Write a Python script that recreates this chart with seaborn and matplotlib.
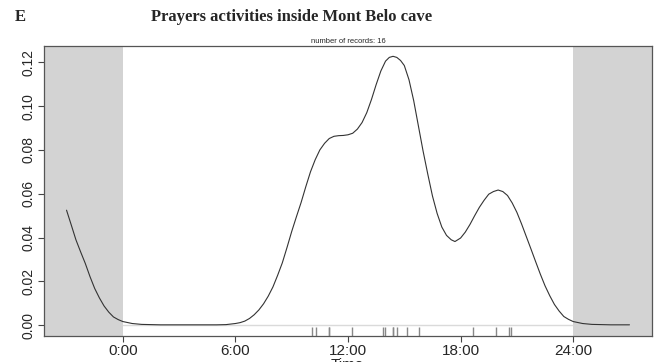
import matplotlib
matplotlib.use("Agg")
import matplotlib.pyplot as plt
import seaborn as sns
import pandas as pd

# density curve (hours, density)
hours = [-3.0, -2.75, -2.5, -2.25, -2.0, -1.75, -1.5, -1.25, -1.0, -0.75, -0.5, -0.25,
         0.0, 0.5, 1.0, 2.0, 3.0, 4.0, 5.0, 5.5, 6.0, 6.25, 6.5, 6.75, 7.0, 7.25, 7.5,
         7.75, 8.0, 8.25, 8.5, 8.75, 9.0, 9.25, 9.5, 9.75, 10.0, 10.25, 10.5, 10.75,
         11.0, 11.25, 11.5, 11.75, 12.0, 12.25, 12.5, 12.75, 13.0, 13.25, 13.5, 13.75,
         14.0, 14.2, 14.4, 14.6, 14.8, 15.0, 15.25, 15.5, 15.75, 16.0, 16.25, 16.5,
         16.75, 17.0, 17.25, 17.5, 17.7, 18.0, 18.25, 18.5, 18.75, 19.0, 19.25, 19.5,
         19.75, 20.0, 20.25, 20.5, 20.75, 21.0, 21.25, 21.5, 21.75, 22.0, 22.25, 22.5,
         22.75, 23.0, 23.25, 23.5, 23.75, 24.0, 24.5, 25.0, 26.0, 27.0]
density = [0.0525, 0.0458, 0.0390, 0.0335, 0.0282, 0.0222, 0.0168, 0.0125, 0.0088, 0.0060,
           0.0038, 0.0026, 0.0017, 0.0008, 0.0004, 0.0002, 0.0002, 0.0002, 0.0002, 0.0003,
           0.0008, 0.0012, 0.0019, 0.0031, 0.0048, 0.0070, 0.0098, 0.0133, 0.0175, 0.0228,
           0.0285, 0.0355, 0.0428, 0.0495, 0.0560, 0.0632, 0.0700, 0.0755, 0.0800, 0.0830,
           0.0852, 0.0862, 0.0865, 0.0866, 0.0869, 0.0876, 0.0895, 0.0925, 0.0970, 0.1030,
           0.1098, 0.1160, 0.1205, 0.1222, 0.1227, 0.1222, 0.1208, 0.1185, 0.1120, 0.1025,
           0.0910, 0.0795, 0.0690, 0.0590, 0.0510, 0.0448, 0.0410, 0.0390, 0.0382, 0.0398,
           0.0425, 0.0460, 0.0500, 0.0538, 0.0570, 0.0598, 0.0610, 0.0617, 0.0610, 0.0592,
           0.0558, 0.0515, 0.0462, 0.0405, 0.0348, 0.0290, 0.0233, 0.0180, 0.0135, 0.0095,
           0.0065, 0.0040, 0.0027, 0.0017, 0.0008, 0.0004, 0.0002, 0.0002]

# the 16 records (hour of day), from the rug
records = [10.08, 10.29, 10.99, 10.99, 12.23, 13.87, 13.97, 14.40, 14.40, 14.61,
           15.13, 15.77, 18.65, 19.91, 20.60, 20.71]

tick_pos = [0, 6, 12, 18, 24]
tick_lab = ["0:00", "6:00", "12:00", "18:00", "24:00"]
ytick_pos = [0.00, 0.02, 0.04, 0.06, 0.08, 0.10, 0.12]

sns.set_style("ticks")
plt.rcParams['font.family'] = ['Liberation Sans', 'DejaVu Sans']

fig = plt.figure(figsize=(6.56, 3.62), dpi=100)
ax = fig.add_axes([0.0671, 0.0718, 0.9268, 0.8011])

ax.axhline(0, color="#dadada", lw=1, zorder=0.5)
ax.axvspan(-4.2, 0, color="#d3d3d3", lw=0, zorder=1)
ax.axvspan(24, 28.2, color="#d3d3d3", lw=0, zorder=1)

curve = pd.DataFrame({"hour": hours, "density": density})
sns.lineplot(data=curve, x="hour", y="density", color="#333333", lw=0.8, ax=ax, zorder=3)
sns.rugplot(x=records, height=0.03, color="#888888", lw=0.6, ax=ax, zorder=2)

ax.set_xlim(-4.2, 28.2)
ax.set_ylim(-0.0049, 0.1274)
ax.set_xticks(tick_pos)
ax.set_xticklabels(tick_lab, fontsize=11)
ax.set_yticks(ytick_pos)
ax.set_yticklabels([f"{v:.2f}" for v in ytick_pos], fontsize=10, rotation=90, va="center")
ax.tick_params(direction="out", length=4, width=0.8, color="#444444", pad=2)
ax.set_xlabel("")
ax.set_ylabel("")
for s in ax.spines.values():
    s.set_visible(True)
    s.set_color("#555555")
    s.set_linewidth(0.9)

ax.set_title("number of records: 16", fontsize=5.5, pad=2)
fig.text(0.445, 0.952, "Prayers activities inside Mont Belo cave", fontsize=12,
         fontweight="bold", family=["Liberation Serif"], ha="center", va="center")
fig.text(0.023, 0.952, "E", fontsize=12, fontweight="bold", family=["Liberation Serif"],
         ha="left", va="center")
fig.text(0.530, 0.011, "Time", fontsize=11, ha="center", va="top")

fig.savefig("out.png", dpi=100)
